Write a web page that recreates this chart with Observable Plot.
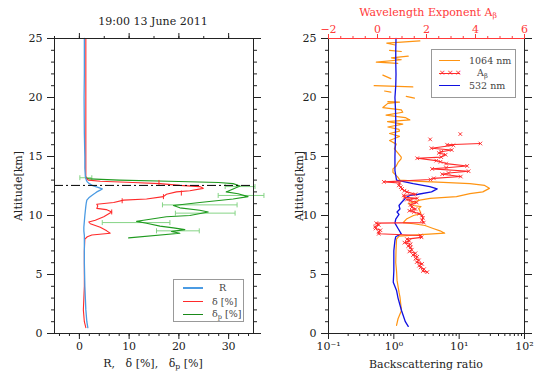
<!DOCTYPE html>
<html><head><meta charset="utf-8">
<script src="https://cdn.jsdelivr.net/npm/d3@7"></script>
<script src="https://cdn.jsdelivr.net/npm/@observablehq/plot@0.6"></script>
<style>
body{margin:0;background:#fff;font-family:"DejaVu Serif",serif;}
#wrap{position:relative;width:540px;height:380px;overflow:hidden;background:#fff}
#wrap svg{position:absolute;left:0;top:0;font-family:"DejaVu Serif",serif !important;font-size:11px !important}
#wrap svg text{font-family:"DejaVu Serif",serif !important;font-variant:normal !important}
.lbl{position:absolute;font-size:11px;white-space:nowrap;color:#222;line-height:1}
.leg{position:absolute;border:1.5px solid #999;background:#fff;box-sizing:border-box}
.li{position:absolute;font-size:9.5px;color:#444;white-space:nowrap;transform:translateY(-50%);line-height:1}
.ln{position:absolute;height:0}
sub{font-size:70%;vertical-align:-2px}
</style></head><body><div id="wrap"></div>
<script>
// ---------------- data ----------------
const title = "19:00 13 June 2011";
const cloudTop = 12.55; // km, dash-dot line
// left panel: [altitude km, value]
const R = [[0.5,1.7],[1.0,1.5],[2,1.3],[3,1.2],[4,1.1],[5,1.05],[6,1.0],[7,1.0],[8,1.0],[8.3,1.0],[8.7,0.9],[9.0,0.9],[9.5,1.0],[10.0,1.1],[10.4,1.2],[10.8,1.3],[11.1,1.4],[11.3,1.5],[11.5,1.9],[11.7,2.5],[11.9,3.2],[12.0,3.5],[12.15,4.2],[12.25,4.6],[12.4,3.6],[12.5,2.8],[12.7,2.0],[12.85,1.6],[13.0,1.4],[13.3,1.2],[14,1.1],[15,1.1],[17,1.0],[20,0.95],[22,1.0],[25,1.0]];
const delta = [[0.5,1.3],[1,1.0],[2,0.8],[3,0.9],[4,1.0],[5,1.0],[6,1.0],[7,1.0],[8.0,1.1],[8.2,1.6],[8.35,2.5],[8.5,6.2],[8.7,5.5],[9.0,4.2],[9.3,2.2],[9.45,1.9],[9.6,3.2],[9.9,4.9],[10.3,6.5],[10.5,5.4],[10.6,3.5],[10.8,3.7],[10.95,3.5],[11.1,6.9],[11.3,8.9],[11.4,13.5],[11.6,16.9],[11.8,17.5],[12.0,19.5],[12.1,22.2],[12.3,24.9],[12.45,24.2],[12.55,20.2],[12.7,16.2],[12.8,10.8],[12.9,4.2],[13.0,1.8],[13.2,1.3],[15,1.3],[20,1.3],[25,1.3]];
const deltaErr = [[12.8,16,0.25],[11.9,20.5,0.25],[11.6,16.9,0.25],[11.25,8.6,0.25],[10.3,6.5,0.25]]; // [alt, centre, half-width]
const deltaP = [[8.1,9.9],[8.5,20.2],[8.65,18.5],[8.8,21.2],[8.95,18.9],[9.1,16.2],[9.35,13.5],[9.5,11.5],[9.6,12.9],[9.9,17.5],[10.0,22.2],[10.3,25.9],[10.45,24.2],[10.65,20.2],[10.85,18.9],[11.1,24.2],[11.4,30.9],[11.6,33.9],[11.85,31.9],[12.0,29.5],[12.25,30.9],[12.5,32.3],[12.7,30.9],[12.8,28],[12.9,18],[13.0,8],[13.1,2.0],[13.2,1.3],[13.3,1.3]];
const deltaPErr = [[13.2,1.3,1.2],[12.45,32.3,3.0],[11.7,32.5,4.6],[10.9,24.2,7.5],[10.2,25.3,6.0],[9.4,11.4,6.8],[8.7,19.8,4.3]];
// right panel: [altitude km, backscattering ratio]
const b532 = [[0.6,1.66],[1.0,1.5],[1.95,1.31],[3.0,1.16],[3.65,1.1],[4.35,0.98],[5.3,1.0],[6,1.0],[7,1.0],[7.9,1.04],[8.2,1.07],[8.45,1.3],[8.9,1.16],[9.35,1.04],[9.7,1.07],[10.1,1.2],[10.3,1.12],[10.55,1.24],[10.85,1.2],[11.1,1.31],[11.55,1.56],[11.7,1.76],[11.8,2.36],[12.0,3.78],[12.26,4.6],[12.45,3.55],[12.7,1.98],[13.0,1.1],[13.8,1.04],[15,1.04],[16,1.05],[17,1.06],[18,1.07],[19,1.06],[20,1.04],[21,1.07],[22,1.08],[23,1.07],[24,1.07],[25,1.08]];
const b1064 = [[24.8,2.5],[24.6,0.78],[24.45,1.05],[24.3,null],[24.0,0.86],[23.9,1.3],[23.7,null],[23.5,1.66],[23.35,0.92],[23.2,1.3],[23.0,0.54],[22.9,1.15],[22.5,null],[21.9,0.68],[21.6,0.9],[21.3,null],[21.0,0.5],[20.9,1.95],[20.7,null],[20.55,0.72],[20.45,0.9],[20.3,null],[20.1,1.55],[19.95,2.07],[19.8,null],[19.65,0.81],[19.6,1.22],[19.5,0.81],[19.15,0.68],[18.95,1.3],[18.75,1.37],[18.5,0.76],[18.3,1.5],[18.1,1.76],[17.95,0.8],[17.75,1.37],[17.5,0.81],[17.3,1.2],[17.15,1.22],[16.95,0.86],[16.7,1.22],[16.35,0.86],[16.05,1.09],[15.65,1.02],[15.3,1.15],[14.95,1.3],[14.8,1.29],[14.5,1.16],[14.2,1.09],[13.95,0.97],[13.65,0.97],[13.25,1.15],[13.0,1.24],[12.9,2.5],[12.8,5.7],[12.7,14.6],[12.55,24.6],[12.3,29],[12.0,23],[11.85,14.6],[11.6,9.1],[11.45,3.6],[11.3,2.5],[11.1,1.9],[11.0,1.66],[10.85,2.0],[10.75,2.6],[10.6,2.4],[10.4,2.5],[10.15,2.6],[10.0,2.0],[9.7,1.56],[9.4,1.39],[9.3,2.0],[9.15,3.0],[8.9,4.0],[8.7,5.1],[8.5,6.0],[8.4,3.0],[8.25,1.2],[8.0,1.1],[7.0,1.08],[6.0,1.07],[5.3,1.1],[4.5,1.12],[3.5,1.2],[3.1,1.24],[1.95,1.31],[1.25,1.16],[0.68,1.1]];
// right panel, top axis: [altitude km, wavelength exponent A_beta]
const aBeta = [[16.9,3.38],[16.7,null],[16.45,2.15],[16.3,null],[16.1,4.2],[16.0,2.84],[15.95,3.1],[15.7,2.2],[15.55,3.03],[15.4,2.6],[15.3,2.5],[15.15,2.78],[14.95,2.6],[14.85,1.62],[14.65,2.4],[14.55,2.57],[14.4,2.8],[14.2,3.66],[14.05,2.8],[13.95,2.23],[13.75,3.72],[13.6,2.9],[13.5,2.64],[13.3,3.4],[13.15,2.3],[13.05,2.16],[12.85,0.26],[12.75,0.9],[12.55,0.87],[12.4,0.95],[12.25,1.0],[12.1,1.1],[12.0,1.2],[11.8,1.55],[11.7,1.07],[11.55,1.1],[11.45,1.62],[11.35,1.2],[11.25,1.35],[11.1,1.6],[10.9,1.35],[10.7,1.4],[10.55,1.55],[10.4,1.3],[10.3,1.48],[10.15,1.7],[10.0,1.82],[9.8,1.85],[9.6,1.82],[9.4,1.89],[9.35,-0.05],[9.2,0.05],[9.05,-0.1],[8.9,-0.08],[8.75,0.12],[8.6,0.05],[8.45,0.05],[8.3,1.76],[8.15,1.8],[8.0,1.2],[7.85,1.3],[7.7,1.1],[7.55,1.35],[7.4,1.25],[7.3,1.35],[7.1,1.4],[6.95,1.3],[6.8,1.55],[6.65,1.45],[6.5,1.62],[6.35,1.55],[6.2,1.69],[6.05,1.6],[5.9,1.82],[5.75,1.7],[5.6,1.76],[5.45,1.9],[5.3,1.85],[5.2,2.03]];
const altTicks = [0,5,10,15,20,25];
const leftXTicks = [0,10,20,30];
const logTicks = [0.1,1,10,100];
const logLabels = ["10⁻¹","10⁰","10¹","10²"];
const aTicks = [-2,0,2,4,6];

// ---------------- colours ----------------
const cR="#4b9be3", cD="#ff2a2a", cP="#1f9a1f", cPe="#86d486", cO="#ff9412", cB="#1010e0", cA="#ff2a2a", cAx="#ff3a3a";

// ---------------- helpers ----------------
const W=540,H=380;
const base = {width:W,height:H,marginTop:38,marginBottom:47,
  style:{background:"transparent",fontFamily:"DejaVu Serif",fontSize:"11px",color:"#222",overflow:"visible"}};
const none = () => "";
const vbar = {draw(c,size){const h=Math.sqrt(size/Math.PI);c.moveTo(0,-h);c.lineTo(0,h);}};
const X = d=>d[1], Y = d=>d[0];
const minorAlt = d3.range(0,25.01,1);
function yAxes(){
  return [
    Plot.axisY({anchor:"left",ticks:altTicks,tickSize:7,tickPadding:5,label:null}),
    Plot.axisY({anchor:"left",ticks:minorAlt,tickSize:3,tickFormat:none,label:null}),
    Plot.axisY({anchor:"right",ticks:altTicks,tickSize:7,tickFormat:none,label:null}),
    Plot.axisY({anchor:"right",ticks:minorAlt,tickSize:3,tickFormat:none,label:null})
  ];
}
const logMinor = [];
for (const k of [-1,0,1]) for (let m=2;m<=9;m++) logMinor.push(m*10**k);

const wrap = document.getElementById("wrap");

// ---------------- left panel ----------------
const left = Plot.plot({...base, marginLeft:54, marginRight:287,
  x:{domain:[-5,35]}, y:{domain:[0,25]},
  marks:[
    ...yAxes(),
    Plot.axisX({anchor:"bottom",ticks:leftXTicks,tickSize:6,label:null}),
    Plot.axisX({anchor:"bottom",ticks:d3.range(-4,35,2),tickSize:3,tickFormat:none,label:null}),
    Plot.axisX({anchor:"top",ticks:leftXTicks,tickSize:6,tickFormat:none,label:null}),
    Plot.axisX({anchor:"top",ticks:d3.range(-5,35,5),tickSize:3,tickFormat:none,label:null}),
    Plot.link(deltaPErr,{x1:d=>d[1]-d[2],x2:d=>d[1]+d[2],y1:Y,y2:Y,stroke:cPe,strokeWidth:1}),
    Plot.dot(deltaPErr.flatMap(([a,c,h])=>[[a,c-h],[a,c+h]]),{x:X,y:Y,symbol:vbar,r:2.5,stroke:cPe,fill:"none",strokeWidth:1}),
    Plot.line(deltaP,{x:X,y:Y,stroke:cP,strokeWidth:1.1}),
    Plot.line(delta,{x:X,y:Y,stroke:cD,strokeWidth:1.1}),
    Plot.dot(deltaErr,{x:d=>d[1],y:Y,symbol:vbar,r:2.5,stroke:cD,fill:"none",strokeWidth:1}),
    Plot.line(R,{x:X,y:Y,stroke:cR,strokeWidth:1.3}),
    Plot.ruleY([cloudTop],{stroke:"#000",strokeDasharray:"9,3,2,3",strokeWidth:1}),
    Plot.frame({stroke:"#222"})
  ]});
wrap.appendChild(left);

// ---------------- right panel (log, bottom axis) ----------------
const right = Plot.plot({...base, marginLeft:328, marginRight:16,
  x:{type:"log",domain:[0.1,100]}, y:{domain:[0,25]},
  marks:[
    ...yAxes(),
    Plot.axisX({anchor:"bottom",ticks:logTicks,tickSize:6,tickFormat:d=>logLabels[logTicks.indexOf(d)],label:null}),
    Plot.axisX({anchor:"bottom",ticks:logMinor,tickSize:3,tickFormat:none,label:null}),
    Plot.line(b1064,{x:X,y:Y,stroke:cO,strokeWidth:1.2}),
    Plot.line(b532,{x:X,y:Y,stroke:cB,strokeWidth:1.3}),
    Plot.frame({stroke:"#222"})
  ]});
wrap.appendChild(right);

// ---------------- right panel overlay (linear, top axis A_beta) ----------------
const over = Plot.plot({...base, marginLeft:328, marginRight:16,
  x:{domain:[-2,6]}, y:{domain:[0,25]},
  marks:[
    Plot.axisX({anchor:"top",ticks:aTicks,tickSize:5,tickPadding:1,color:cAx,stroke:cAx,fill:cAx,
      tickFormat:d=>d<0?"−"+(-d):String(d),label:null}),
    Plot.axisX({anchor:"top",ticks:d3.range(-2,6.01,0.5),tickSize:3,stroke:cAx,tickFormat:none,label:null}),
    Plot.axisY({ticks:[],label:null}),
    Plot.ruleY([25],{stroke:cAx,strokeWidth:1}),
    Plot.line(aBeta,{x:X,y:Y,stroke:cA,strokeWidth:1.1}),
    Plot.dot(aBeta.filter(d=>d[1]!=null),{x:X,y:Y,symbol:"times",r:1.8,stroke:cA,strokeWidth:0.9})
  ]});
wrap.appendChild(over);

// ---------------- text labels ----------------
function label(html,x,y,o={}){
  const d=document.createElement("div");d.className="lbl";d.innerHTML=html;
  d.style.left=x+"px";d.style.top=y+"px";
  d.style.transform="translate(-50%,-50%)"+(o.rot?" rotate(-90deg)":"");
  if(o.color)d.style.color=o.color;
  if(o.size)d.style.fontSize=o.size;
  wrap.appendChild(d);
}
label(title,153,21);
label("Altitude[km]",18,186,{rot:true});
label("Altitude[km]",299,186,{rot:true});
label("R,&nbsp;&nbsp; δ [%],&nbsp;&nbsp; δ<sub>p</sub> [%]",153,364);
label("Backscattering ratio",426,364);
label("Wavelength Exponent A<sub>β</sub>",428,13,{color:cAx});

// ---------------- legends ----------------
function legend(x,y,w,h,items){
  const b=document.createElement("div");b.className="leg";
  Object.assign(b.style,{left:x+"px",top:y+"px",width:w+"px",height:h+"px"});
  wrap.appendChild(b);
  for(const it of items){
    const l=document.createElement("div");l.className="ln";
    Object.assign(l.style,{left:it.x0+"px",top:(it.y-1)+"px",width:(it.x1-it.x0)+"px",borderTop:`${it.w||1.2}px solid ${it.c}`});
    wrap.appendChild(l);
    if(it.marks){
      for(const mx of it.marks){
        const m=document.createElement("div");m.className="li";
        Object.assign(m.style,{left:(mx-3)+"px",top:(it.y-0.5)+"px",color:it.c,fontSize:"8px"});
        m.textContent="×";wrap.appendChild(m);
      }
    }
    const t=document.createElement("div");t.className="li";t.innerHTML=it.t;
    Object.assign(t.style,{left:it.tx+"px",top:it.y+"px"});
    wrap.appendChild(t);
  }
}
legend(173,279,71,43,[
  {t:"R",c:cR,x0:183,x1:203,y:288,tx:219,w:2},
  {t:"δ [%]",c:cD,x0:183,x1:203,y:301.5,tx:212},
  {t:"δ<sub>p</sub> [%]",c:"#1a8a1a",x0:183,x1:203,y:315,tx:212}
]);
legend(431,49,85,49,[
  {t:"1064 nm",c:cO,x0:439,x1:460,y:61,tx:469},
  {t:"A<sub>β</sub>",c:cA,x0:439,x1:460,y:73.5,tx:477,marks:[442,450,458]},
  {t:"532 nm",c:cB,x0:439,x1:460,y:86,tx:469}
]);
</script></body></html>
